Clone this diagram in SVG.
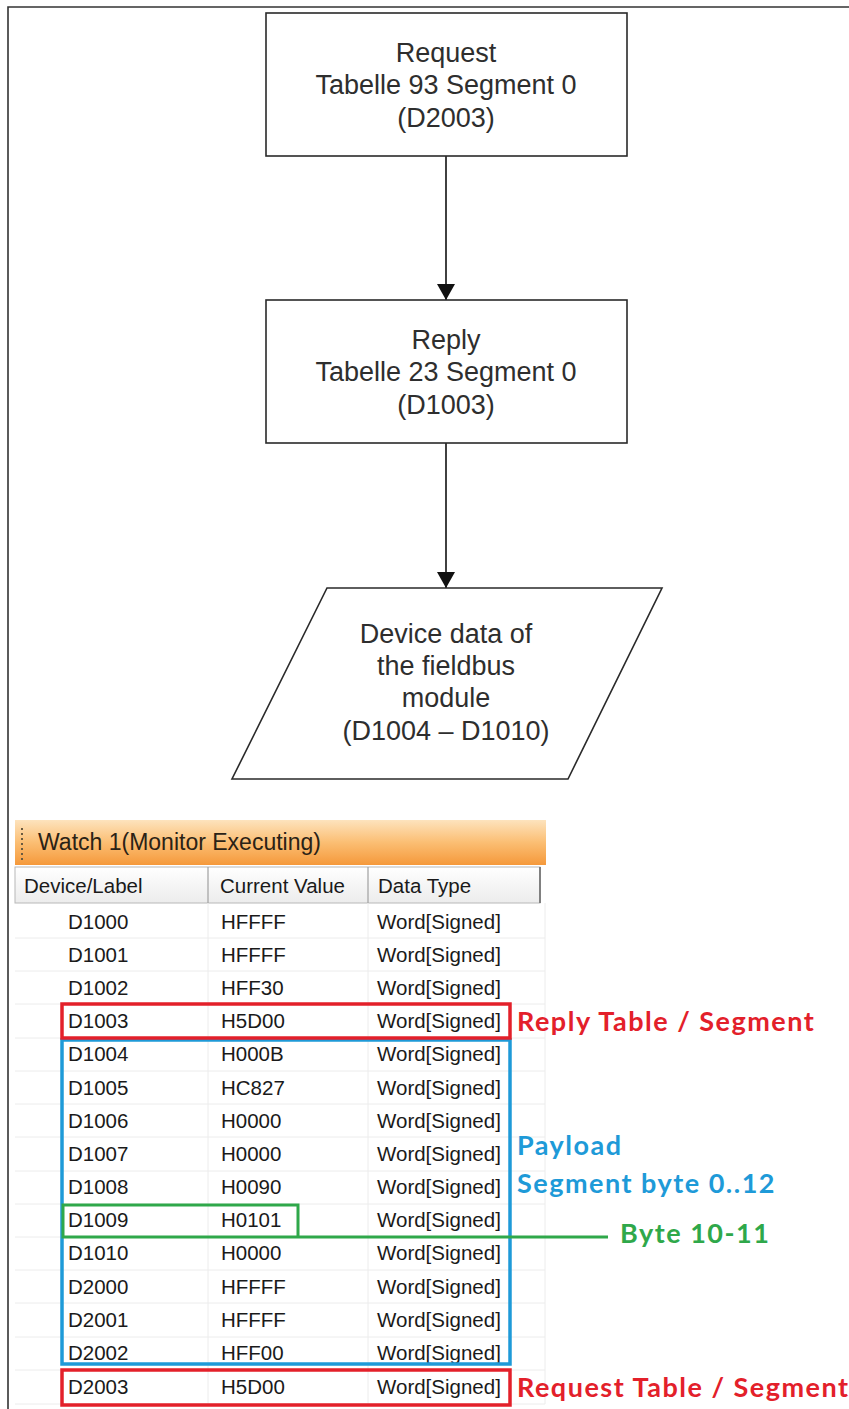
<svg xmlns="http://www.w3.org/2000/svg" width="849" height="1409" viewBox="0 0 849 1409">
<defs>
<style>
.nb{fill:#fff;stroke:#2a2a2a;stroke-width:1.6}
.nt{font-family:"Liberation Sans",Arial,sans-serif;font-size:27px;fill:#2e2e2e;text-anchor:middle}
.conn{stroke:#111;stroke-width:1.6;fill:none}
.tt{font-family:"Liberation Sans",Arial,sans-serif;font-size:20.5px;fill:#1a1a1a}
.ht{font-family:"Liberation Sans",Arial,sans-serif;font-size:20.5px;fill:#1a1a1a}
.grid{stroke:#ececec;stroke-width:1}
.lab{font-family:Lato,"Open Sans",sans-serif;font-weight:bold;font-size:27px;letter-spacing:1.5px}
</style>
<marker id="ah" viewBox="0 0 16 18" refX="16" refY="9" markerWidth="16" markerHeight="18" markerUnits="userSpaceOnUse" orient="auto">
<path d="M0,0 L16,9 L0,18 Z" fill="#111"/>
</marker>
<linearGradient id="title" x1="0" y1="0" x2="0" y2="1">
<stop offset="0" stop-color="#fde3bd"/>
<stop offset="0.5" stop-color="#fbbe73"/>
<stop offset="1" stop-color="#f5993b"/>
</linearGradient>
<linearGradient id="hdr" x1="0" y1="0" x2="0" y2="1">
<stop offset="0" stop-color="#ffffff"/>
<stop offset="1" stop-color="#ececec"/>
</linearGradient>
</defs>
<rect width="849" height="1409" fill="#fff"/>
<path d="M8,1409 V7 H849" fill="none" stroke="#333" stroke-width="1.6"/>

<g id="connectors">
<line class="conn" x1="446" y1="156" x2="446" y2="300" marker-end="url(#ah)"/>
<line class="conn" x1="446" y1="443" x2="446" y2="588" marker-end="url(#ah)"/>
</g>

<g id="request">
<rect class="nb" x="266" y="13" width="361" height="143"/>
<text class="nt" x="446" y="62">Request</text>
<text class="nt" x="446" y="94">Tabelle 93 Segment 0</text>
<text class="nt" x="446" y="127">(D2003)</text>
</g>

<g id="reply">
<rect class="nb" x="266" y="300" width="361" height="143"/>
<text class="nt" x="446" y="349">Reply</text>
<text class="nt" x="446" y="381">Tabelle 23 Segment 0</text>
<text class="nt" x="446" y="414">(D1003)</text>
</g>

<g id="device-data">
<polygon class="nb" points="327,588 662,588 568,779 232,779"/>
<text class="nt" x="446" y="643">Device data of</text>
<text class="nt" x="446" y="675">the fieldbus</text>
<text class="nt" x="446" y="707">module</text>
<text class="nt" x="446" y="740">(D1004 – D1010)</text>
</g>

<g id="watch-window">
<rect x="15" y="820" width="531" height="45" fill="url(#title)"/>
<g fill="#6a5a40">
<rect x="21" y="828" width="2" height="2"/><rect x="21" y="833" width="2" height="2"/><rect x="21" y="838" width="2" height="2"/><rect x="21" y="843" width="2" height="2"/><rect x="21" y="848" width="2" height="2"/><rect x="21" y="853" width="2" height="2"/><rect x="21" y="858" width="2" height="2"/>
</g>
<text x="38" y="850" font-family="Liberation Sans,Arial,sans-serif" font-size="23" fill="#2a2216">Watch 1(Monitor Executing)</text>
<rect x="15" y="867" width="525" height="36" fill="url(#hdr)" stroke="#b8b8b8" stroke-width="1"/>
<line x1="208" y1="867" x2="208" y2="903" stroke="#a0a0a0" stroke-width="1.2"/>
<line x1="368" y1="867" x2="368" y2="903" stroke="#a0a0a0" stroke-width="1.2"/>
<line x1="540" y1="867" x2="540" y2="903" stroke="#808080" stroke-width="2"/>
<text class="ht" x="24" y="893">Device/Label</text>
<text class="ht" x="220" y="893">Current Value</text>
<text class="ht" x="378" y="893">Data Type</text>
<g class="grid">
<line x1="15" y1="938" x2="545" y2="938"/><line x1="15" y1="971" x2="545" y2="971"/><line x1="15" y1="1004" x2="545" y2="1004"/>
<line x1="15" y1="1038" x2="545" y2="1038"/><line x1="15" y1="1071" x2="545" y2="1071"/><line x1="15" y1="1104" x2="545" y2="1104"/>
<line x1="15" y1="1137" x2="545" y2="1137"/><line x1="15" y1="1171" x2="545" y2="1171"/><line x1="15" y1="1204" x2="545" y2="1204"/>
<line x1="15" y1="1237" x2="545" y2="1237"/><line x1="15" y1="1270" x2="545" y2="1270"/><line x1="15" y1="1303" x2="545" y2="1303"/>
<line x1="15" y1="1337" x2="545" y2="1337"/><line x1="15" y1="1370" x2="545" y2="1370"/><line x1="15" y1="1404" x2="545" y2="1404"/>
<line x1="208" y1="903" x2="208" y2="1404"/><line x1="368" y1="903" x2="368" y2="1404"/><line x1="545" y1="903" x2="545" y2="1404"/>
</g>
<g class="tt">
<text x="68" y="929">D1000</text><text x="221" y="929">HFFFF</text><text x="377" y="929">Word[Signed]</text>
<text x="68" y="962">D1001</text><text x="221" y="962">HFFFF</text><text x="377" y="962">Word[Signed]</text>
<text x="68" y="995">D1002</text><text x="221" y="995">HFF30</text><text x="377" y="995">Word[Signed]</text>
<text x="68" y="1028">D1003</text><text x="221" y="1028">H5D00</text><text x="377" y="1028">Word[Signed]</text>
<text x="68" y="1061">D1004</text><text x="221" y="1061">H000B</text><text x="377" y="1061">Word[Signed]</text>
<text x="68" y="1095">D1005</text><text x="221" y="1095">HC827</text><text x="377" y="1095">Word[Signed]</text>
<text x="68" y="1128">D1006</text><text x="221" y="1128">H0000</text><text x="377" y="1128">Word[Signed]</text>
<text x="68" y="1161">D1007</text><text x="221" y="1161">H0000</text><text x="377" y="1161">Word[Signed]</text>
<text x="68" y="1194">D1008</text><text x="221" y="1194">H0090</text><text x="377" y="1194">Word[Signed]</text>
<text x="68" y="1227">D1009</text><text x="221" y="1227">H0101</text><text x="377" y="1227">Word[Signed]</text>
<text x="68" y="1260">D1010</text><text x="221" y="1260">H0000</text><text x="377" y="1260">Word[Signed]</text>
<text x="68" y="1294">D2000</text><text x="221" y="1294">HFFFF</text><text x="377" y="1294">Word[Signed]</text>
<text x="68" y="1327">D2001</text><text x="221" y="1327">HFFFF</text><text x="377" y="1327">Word[Signed]</text>
<text x="68" y="1360">D2002</text><text x="221" y="1360">HFF00</text><text x="377" y="1360">Word[Signed]</text>
<text x="68" y="1394">D2003</text><text x="221" y="1394">H5D00</text><text x="377" y="1394">Word[Signed]</text>
</g>
</g>

<g id="highlights" fill="none">
<rect x="62" y="1040" width="448" height="324" stroke="#1e9ad8" stroke-width="3.5"/>
<rect x="62" y="1004" width="448" height="34" stroke="#e3202a" stroke-width="3.5"/>
<rect x="62" y="1370" width="448" height="35" stroke="#e3202a" stroke-width="3.5"/>
<path d="M298,1237 V1205 H63 V1237 H608" stroke="#2fa84a" stroke-width="3"/>
</g>

<g id="labels" class="lab">
<text x="517" y="1031" fill="#e3202a">Reply Table / Segment</text>
<text x="517" y="1155" fill="#1e9ad8">Payload</text>
<text x="517" y="1193" fill="#1e9ad8">Segment byte 0..12</text>
<text x="620" y="1243" fill="#2fa84a">Byte 10-11</text>
<text x="517" y="1397" fill="#e3202a">Request Table / Segment</text>
</g>
</svg>
